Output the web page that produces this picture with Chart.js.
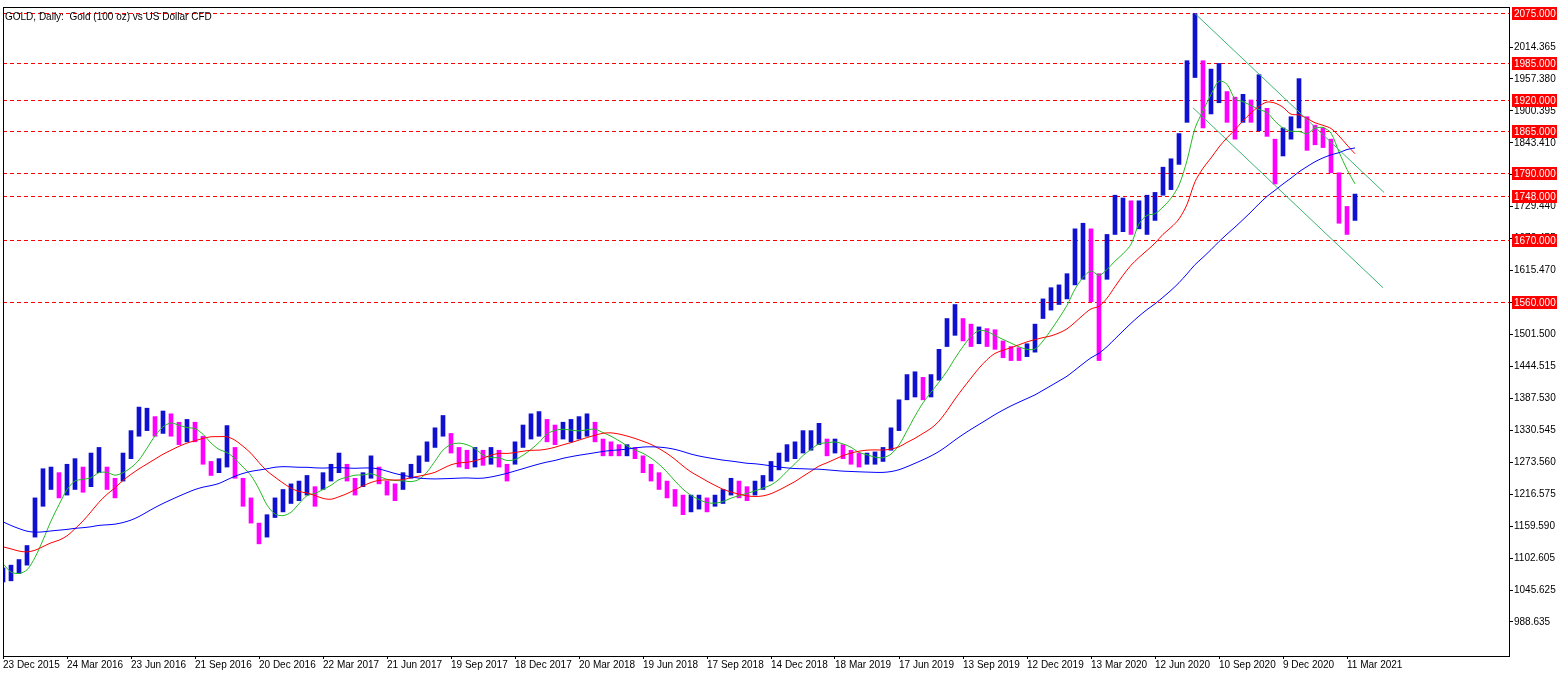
<!DOCTYPE html>
<html><head><meta charset="utf-8">
<script src="https://cdn.jsdelivr.net/npm/chart.js@4.4.1/dist/chart.umd.min.js"></script>
<style>html,body{margin:0;padding:0;background:#fff}#w{width:1567px;height:677px}</style>
</head><body><div id="w"><canvas id="c" width="1567" height="677"></canvas></div>
<script>
const title = "GOLD, Daily:  Gold (100 oz) vs US Dollar CFD";
const dateLabels = ["23 Dec 2015","24 Mar 2016","23 Jun 2016","21 Sep 2016","20 Dec 2016","22 Mar 2017","21 Jun 2017","19 Sep 2017","18 Dec 2017","20 Mar 2018","19 Jun 2018","17 Sep 2018","14 Dec 2018","18 Mar 2019","17 Jun 2019","13 Sep 2019","12 Dec 2019","13 Mar 2020","12 Jun 2020","10 Sep 2020","9 Dec 2020","11 Mar 2021"];
const priceTicks = [988.635,1045.625,1102.605,1159.590,1216.575,1273.560,1330.545,1387.530,1444.515,1501.500,1558.485,1615.470,1672.455,1729.440,1786.425,1843.410,1900.395,1957.380,2014.365];
const levels = [2075,1985,1920,1865,1790,1748,1670,1560];
const barStep = 8;
const lows = [1060,1062,1075,1090,1140,1195,1225,1210,1215,1225,1220,1230,1255,1225,1210,1240,1280,1320,1330,1320,1325,1320,1305,1310,1310,1270,1250,1255,1265,1245,1195,1165,1128,1140,1175,1185,1200,1205,1215,1195,1225,1240,1255,1240,1215,1230,1245,1235,1215,1205,1225,1245,1255,1275,1300,1320,1290,1265,1262,1265,1268,1270,1265,1240,1270,1300,1315,1320,1310,1305,1315,1310,1315,1320,1310,1285,1285,1285,1285,1280,1255,1240,1225,1210,1195,1180,1185,1190,1185,1195,1200,1215,1210,1205,1215,1225,1240,1260,1275,1280,1290,1295,1305,1285,1290,1280,1270,1265,1270,1270,1275,1295,1330,1385,1390,1385,1390,1420,1480,1500,1490,1480,1485,1480,1475,1460,1455,1455,1462,1470,1530,1545,1555,1565,1590,1600,1560,1455,1600,1680,1685,1680,1690,1680,1705,1750,1760,1805,1880,1960,1870,1895,1915,1880,1850,1880,1880,1865,1855,1770,1820,1850,1870,1830,1840,1835,1790,1700,1680,1705];
const highs = [1085,1090,1100,1125,1210,1262,1265,1255,1270,1280,1265,1290,1300,1265,1245,1290,1330,1372,1370,1355,1365,1360,1345,1350,1345,1320,1275,1280,1339,1300,1245,1210,1165,1180,1210,1225,1235,1240,1250,1230,1255,1270,1290,1270,1245,1255,1285,1265,1240,1235,1255,1270,1285,1310,1335,1357,1325,1300,1295,1300,1295,1300,1295,1270,1310,1340,1360,1364,1350,1340,1345,1350,1355,1360,1345,1315,1310,1305,1305,1300,1285,1270,1255,1240,1225,1215,1215,1215,1210,1215,1225,1245,1240,1230,1240,1250,1275,1290,1305,1310,1330,1330,1343,1315,1315,1305,1295,1290,1290,1292,1300,1335,1385,1430,1435,1425,1430,1475,1530,1555,1530,1520,1515,1512,1510,1490,1480,1478,1485,1520,1565,1585,1590,1610,1690,1700,1690,1610,1680,1750,1745,1740,1740,1750,1755,1800,1815,1860,1990,2074,1990,1975,1985,1935,1925,1930,1920,1965,1905,1850,1870,1890,1958,1890,1875,1870,1850,1790,1730,1752];
const priorMid = [1290,1280,1260,1250,1230,1210,1195,1190,1200,1195,1205,1210,1200,1215,1190,1175,1170,1150,1100,1090,1120,1135,1125,1140,1150,1165,1175,1150,1100,1075,1065];
const maGreenN = 5, maRedN = 12, maBlueN = 31;
const upper = [[1192,2074],[1381,1755]];
const lower = [[1190,1906],[1380,1585]];

const mids = lows.map((l,i)=>(l+highs[i])/2);
const all = priorMid.concat(mids);
function ma(n){return mids.map((_,i)=>{const j=i+priorMid.length;const s=all.slice(Math.max(0,j-n+1),j+1);return {x:i*barStep,y:s.reduce((a,b)=>a+b,0)/s.length};});}
const bars = lows.map((l,i)=>({x:i*barStep,y:[l,highs[i]]}));
const barColors = mids.map((m,i)=> (i>0 && m<mids[i-1]) ? '#ff00ff' : '#1010d0');
const FONT = 'Liberation Sans';

const overlay = {
  id:'overlay',
  beforeDatasetsDraw(ch){
    const {ctx,chartArea:a,scales:{y}} = ch;
    ctx.save();ctx.strokeStyle='#ff0000';ctx.lineWidth=1;ctx.setLineDash([4,3]);
    levels.forEach(v=>{const p=Math.round(y.getPixelForValue(v))+0.5;ctx.beginPath();ctx.moveTo(a.left,p);ctx.lineTo(a.right,p);ctx.stroke();});
    ctx.restore();
  },
  afterDraw(ch){
    const {ctx,chartArea:a,scales:{y}} = ch;
    ctx.save();
    ctx.strokeStyle='#000';ctx.lineWidth=1;ctx.strokeRect(a.left+0.5,a.top+0.5,a.right-a.left,a.bottom-a.top);
    ctx.font='10px "'+FONT+'"';ctx.textBaseline='middle';
    levels.forEach(v=>{const p=Math.round(y.getPixelForValue(v));ctx.fillStyle='#ff0000';ctx.fillRect(a.right+3,p-6,45,13);ctx.fillStyle='#fff';ctx.fillText(v.toFixed(3),a.right+5,p+1);});
    ctx.fillStyle='#000';ctx.fillText(title,a.left+2,a.top+10);
    ctx.restore();
  }
};

new Chart(document.getElementById('c'),{
  data:{datasets:[
    {type:'bar',data:bars,backgroundColor:barColors,barThickness:4,grouped:false,order:5},
    {type:'line',data:ma(maBlueN),borderColor:'#0000ff',borderWidth:1,pointRadius:0,tension:0.3,order:1},
    {type:'line',data:ma(maRedN),borderColor:'#ff0000',borderWidth:1,pointRadius:0,tension:0.3,order:1},
    {type:'line',data:ma(maGreenN),borderColor:'#22bb22',borderWidth:1,pointRadius:0,tension:0.3,order:1},
    {type:'line',data:upper.map(p=>({x:p[0],y:p[1]})),borderColor:'#3cb371',borderWidth:1,pointRadius:0,order:0},
    {type:'line',data:lower.map(p=>({x:p[0],y:p[1]})),borderColor:'#3cb371',borderWidth:1,pointRadius:0,order:0}
  ]},
  plugins:[overlay],
  options:{
    responsive:false,animation:false,
    layout:{padding:{left:3,top:7,right:0,bottom:0}},
    plugins:{legend:{display:false},tooltip:{enabled:false}},
    scales:{
      x:{type:'linear',min:0,max:1506,offset:false,
        afterBuildTicks(s){s.ticks=dateLabels.map((_,i)=>({value:i*64}));},
        afterFit(s){s.height=21;},
        grid:{drawOnChartArea:false,drawTicks:true,tickLength:3,color:'#000',offset:false},border:{display:false},
        ticks:{autoSkip:false,maxRotation:0,align:'start',padding:0,color:'#000',font:{family:FONT,size:10},callback:(v,i)=>dateLabels[i]}},
      y:{position:'right',min:927.9,max:2085.8,
        afterBuildTicks(s){s.ticks=priceTicks.map(v=>({value:v}));},
        afterFit(s){s.width=58;},
        grid:{drawOnChartArea:false,drawTicks:true,tickLength:4,color:'#000'},border:{display:false},
        ticks:{padding:1,color:'#000',font:{family:FONT,size:10},callback:v=>v.toFixed(3)}}
    }
  }
});
</script></body></html>
